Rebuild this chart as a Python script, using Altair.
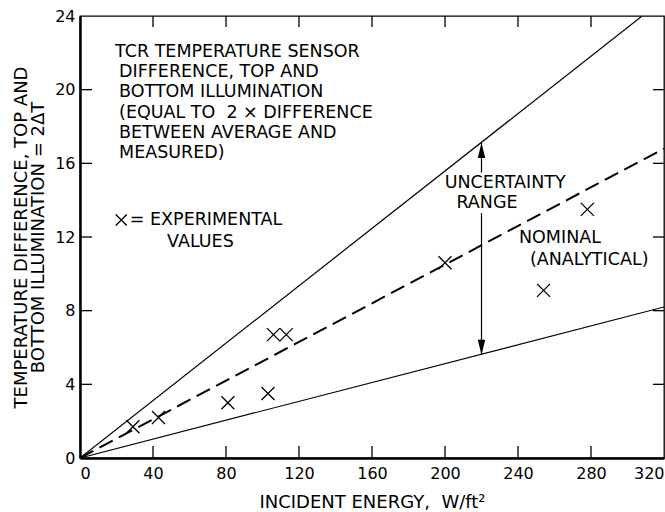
import altair as alt
import pandas as pd

# ---- data ----
x_ticks = [0, 40, 80, 120, 160, 200, 240, 280, 320]
y_ticks = [0, 4, 8, 12, 16, 20, 24]
inner_x_ticks = [40, 80, 120, 160, 200, 240, 280]
inner_y_ticks = [4, 8, 12, 16, 20]

exp_x = [29, 43, 81, 103, 106, 113, 200, 254, 278]
exp_y = [1.7, 2.2, 3.0, 3.5, 6.7, 6.7, 10.6, 9.1, 13.5]

upper_x = [0, 308]
upper_y = [0, 24]
lower_x = [0, 320]
lower_y = [0, 8.2]
nominal_x = [0, 320]
nominal_y = [0, 16.8]

arrow_x = 220
arrow_top = 17.1
arrow_bottom = 5.6
arrow_gap = [15.5, 13.3]

title_lines = ["TCR TEMPERATURE SENSOR", "DIFFERENCE, TOP AND", "BOTTOM ILLUMINATION",
               "(EQUAL TO\u00a0 2 \u00d7 DIFFERENCE", "BETWEEN AVERAGE AND", "MEASURED)"]
title_x = [19.2, 21.4, 21.4, 21.4, 21.4, 21.4]
title_y = [22.05, 20.95, 19.85, 18.75, 17.65, 16.55]

note_text = ["UNCERTAINTY", "RANGE", "NOMINAL", "(ANALYTICAL)", "VALUES"]
note_x = [233, 223, 263, 279, 66]
note_y = [14.93, 13.84, 11.94, 10.75, 11.73]

legend_text = "= EXPERIMENTAL"
legend_x = 27.3
legend_marker_x = 22.6
legend_y = 12.92

FONT = "DejaVu Sans"
FS = 17.5

xscale = alt.Scale(domain=[0, 320], nice=False, zero=False)
yscale = alt.Scale(domain=[0, 24], nice=False, zero=False)
xaxis = alt.Axis(values=x_ticks, ticks=False, grid=False,
                 title="INCIDENT ENERGY,\u00a0 W/ft\u00b2",
                 labelPadding=7, titlePadding=12, format="d", labelFlush=True)
yaxis = alt.Axis(values=y_ticks, ticks=False, grid=False,
                 title=["TEMPERATURE DIFFERENCE, TOP AND", "BOTTOM ILLUMINATION = 2\u0394T"],
                 labelPadding=5, titlePadding=7, format="d", labelFlush=False)


def X(field):
    return alt.X(field, type="quantitative", scale=xscale, axis=xaxis)


def Y(field):
    return alt.Y(field, type="quantitative", scale=yscale, axis=yaxis)


solid = pd.DataFrame({
    "x": upper_x + lower_x,
    "y": upper_y + lower_y,
    "s": ["upper"] * 2 + ["lower"] * 2,
})
nominal = pd.DataFrame({"x": nominal_x, "y": nominal_y})
exp = pd.DataFrame({"x": exp_x, "y": exp_y})

solid_layer = alt.Chart(solid).mark_line(color="black", strokeWidth=1.2, clip=True).encode(
    x=X("x"), y=Y("y"), detail="s:N")
nominal_layer = alt.Chart(nominal).mark_line(color="black", strokeWidth=2, strokeDash=[15, 7], clip=True).encode(
    x=X("x"), y=Y("y"))

XSHAPE = "M-1,-1L1,1M1,-1L-1,1"
exp_layer = alt.Chart(exp).mark_point(shape=XSHAPE, size=169, filled=False, color="black",
                                      strokeWidth=1.3, opacity=1).encode(x=X("x"), y=Y("y"))

arrow_seg = pd.DataFrame({"x": [arrow_x, arrow_x], "y": [arrow_top, arrow_gap[1]],
                          "y2": [arrow_gap[0], arrow_bottom]})
arrow_layer = alt.Chart(arrow_seg).mark_rule(color="black", strokeWidth=1.2).encode(
    x=X("x"), y=Y("y"), y2="y2")

head_top = alt.Chart(pd.DataFrame({"x": [arrow_x], "y": [arrow_top]})).mark_point(
    shape="M0,-1L0.5,1L-0.5,1Z", size=225, filled=True, color="black", opacity=1, yOffset=7.5
).encode(x=X("x"), y=Y("y"))
head_bot = alt.Chart(pd.DataFrame({"x": [arrow_x], "y": [arrow_bottom]})).mark_point(
    shape="M0,1L0.5,-1L-0.5,-1Z", size=225, filled=True, color="black", opacity=1, yOffset=-7.5
).encode(x=X("x"), y=Y("y"))

title_df = pd.DataFrame({"t": title_lines, "x": title_x, "y": title_y})
title_layer = alt.Chart(title_df).mark_text(align="left", baseline="middle", font=FONT, fontSize=FS,
                                            color="black").encode(x=X("x"), y=Y("y"), text="t:N")

note_df = pd.DataFrame({"t": note_text, "x": note_x, "y": note_y})
note_layer = alt.Chart(note_df).mark_text(align="center", baseline="middle", font=FONT, fontSize=FS,
                                          color="black").encode(x=X("x"), y=Y("y"), text="t:N")

leg_df = pd.DataFrame({"t": [legend_text], "x": [legend_x], "y": [legend_y]})
leg_text = alt.Chart(leg_df).mark_text(align="left", baseline="middle", font=FONT, fontSize=FS,
                                       color="black").encode(x=X("x"), y=Y("y"), text="t:N")
leg_mark = alt.Chart(pd.DataFrame({"x": [legend_marker_x], "y": [legend_y]})).mark_point(
    shape=XSHAPE, size=121, filled=False, color="black", strokeWidth=1.3, opacity=1
).encode(x=X("x"), y=Y("y"))

# inward tick marks on all four sides
xt = pd.DataFrame({"v": inner_x_ticks})
yt = pd.DataFrame({"v": inner_y_ticks})
tick_bottom = alt.Chart(xt).mark_rule(color="black", strokeWidth=1.3).encode(
    x=X("v"), y=alt.value(442), y2=alt.value(430))
tick_top = alt.Chart(xt).mark_rule(color="black", strokeWidth=1.3).encode(
    x=X("v"), y=alt.value(0), y2=alt.value(11))
tick_left = alt.Chart(yt).mark_rule(color="black", strokeWidth=1.3).encode(
    y=Y("v"), x=alt.value(0), x2=alt.value(12))
tick_right = alt.Chart(yt).mark_rule(color="black", strokeWidth=1.3).encode(
    y=Y("v"), x=alt.value(584), x2=alt.value(573))

chart = alt.layer(
    solid_layer, nominal_layer, exp_layer, arrow_layer, head_top, head_bot,
    title_layer, note_layer, leg_text, leg_mark,
    tick_bottom, tick_top, tick_left, tick_right,
).properties(
    width=584, height=442,
    padding={"left": 80, "top": 16, "right": 1, "bottom": 54},
    autosize=alt.AutoSizeParams(type="none"),
    background="white",
).configure_view(
    stroke="black", strokeWidth=1.3
).configure_axis(
    domainColor="black", domainWidth=2.5, labelFont=FONT, labelFontSize=16, labelColor="black",
    titleFont=FONT, titleFontSize=18, titleColor="black", titleFontWeight="normal",
    titleLineHeight=17, labelOverlap=False,
)

chart.save("out.html", embed_options={"renderer": "svg", "actions": False})
